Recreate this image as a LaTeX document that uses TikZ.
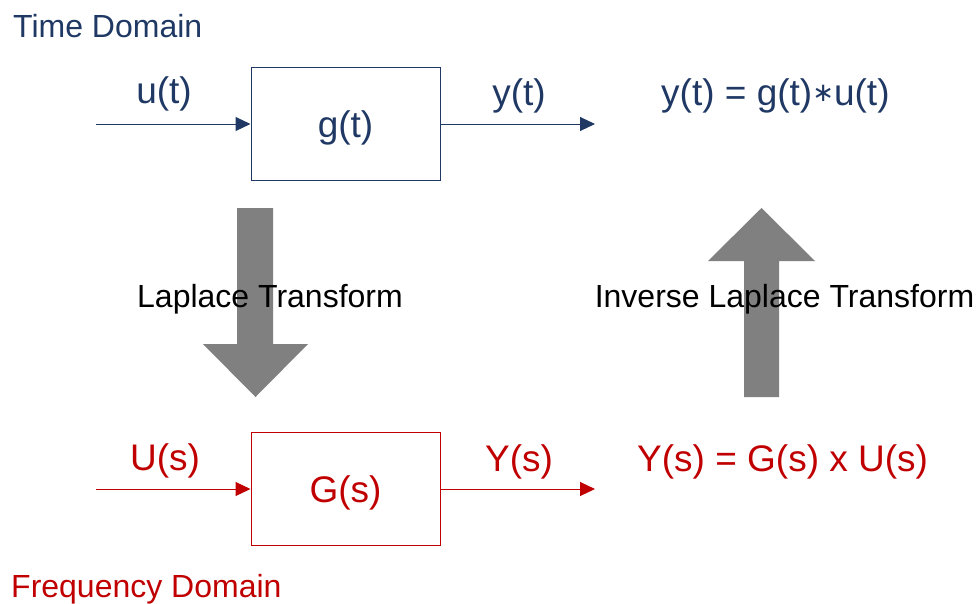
\documentclass[tikz,border=0pt]{standalone}
\usepackage{fontspec}
\setmainfont{Liberation Sans}
\newfontfamily\symfont{DejaVu Sans}
\usetikzlibrary{arrows.meta}
\definecolor{tblue}{HTML}{1F3864}
\definecolor{fred}{HTML}{C00000}
\definecolor{bigarrow}{HTML}{808080}
\tikzset{
  blk/.style={draw, line width=1pt, minimum width=189pt, minimum height=113pt, inner sep=0pt},
  sig/.style={line width=1pt, -{Triangle[length=15pt,width=14pt]}},
  big/.style={font=\fontsize{37}{40}\selectfont, anchor=base, inner sep=0pt},
  mid/.style={font=\fontsize{32}{36}\selectfont, anchor=base, inner sep=0pt},
}
\begin{document}
\begin{tikzpicture}[x=1pt,y=-1pt]
\useasboundingbox (0,0) rectangle (979,603);
% big gray arrows
\fill[bigarrow] (237,208) -- (273,208) -- (273,344) -- (308,344) -- (255.5,397) -- (203,344) -- (237,344) -- cycle;
\fill[bigarrow] (744,397) -- (779,397) -- (779,261) -- (815,261) -- (761.5,208) -- (708,261) -- (744,261) -- cycle;
% time domain
\node[mid, anchor=base west, text=tblue] (td) at (13,37) {Time Domain};
\node[blk, draw=tblue] (g) at (345.5,123.5) {};
\node[big, text=tblue] (gl) at (345.5,137) {g(t)};
\coordinate (uin) at (96,124);
\coordinate (yout) at (595,124);
\draw[sig, tblue] (uin) -- (g.west |- uin);
\draw[sig, tblue] (g.east |- yout) -- (yout);
\node[big, text=tblue] (ul) at (164,103) {u(t)};
\node[big, text=tblue] (yl) at (519,105) {y(t)};
\node[big, text=tblue, anchor=base west] (teq) at (661,105) {y(t) = g(t)\raisebox{4pt}{\symfont\fontsize{26}{36}\selectfont ∗}u(t)};
% transforms
\node[mid] (lt) at (270,307) {Laplace Transform};
\node[mid] (ilt) at (784.5,307) {Inverse Laplace Transform};
% frequency domain
\node[blk, draw=fred] (G) at (345.5,489) {};
\node[big, text=fred] (Gl) at (345.5,502) {G(s)};
\coordinate (Uin) at (96,489);
\coordinate (Yout) at (595,489);
\draw[sig, fred] (Uin) -- (G.west |- Uin);
\draw[sig, fred] (G.east |- Yout) -- (Yout);
\node[big, text=fred] (Ul) at (165,470) {U(s)};
\node[big, text=fred] (Yl) at (519,471) {Y(s)};
\node[big, text=fred, anchor=base west] (feq) at (637,471) {Y(s) = G(s) x U(s)};
\node[mid, anchor=base west, text=fred] (fd) at (11,597) {Frequency Domain};
\end{tikzpicture}
\end{document}
